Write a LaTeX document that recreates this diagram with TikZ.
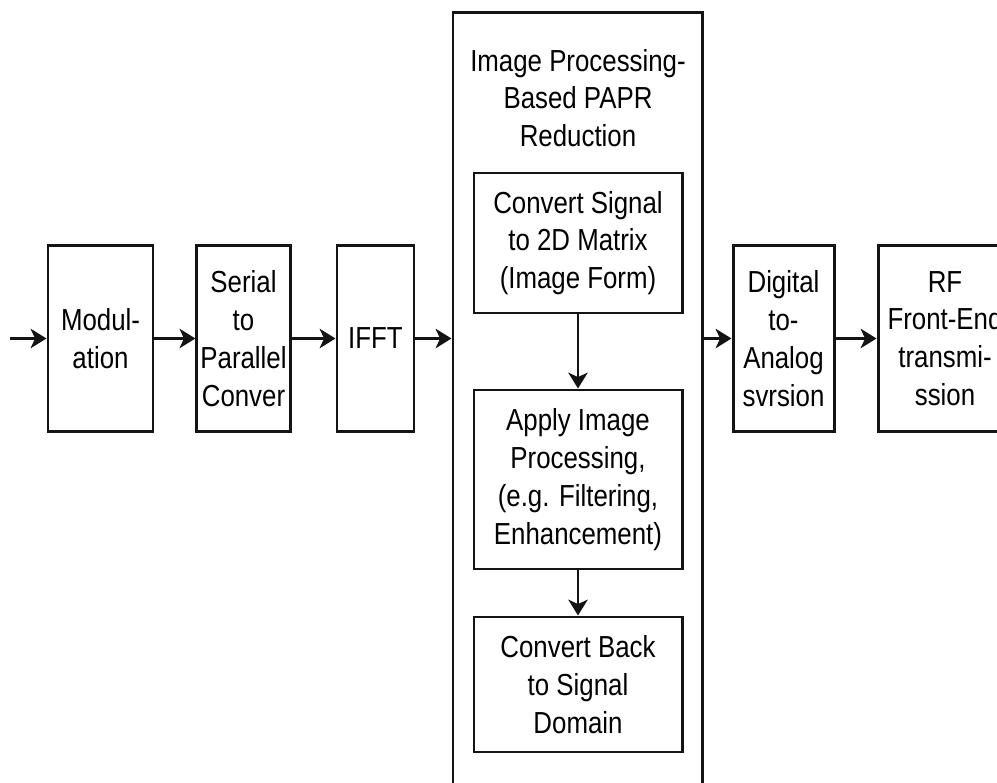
\documentclass[tikz,border=0pt]{standalone}
\usepackage{fontspec}
\setmainfont{Liberation Sans}[FakeStretch=0.85]
\usepackage{xcolor}
\usepackage{tikz}
\usetikzlibrary{arrows.meta,positioning}
\definecolor{figline}{RGB}{20,20,20}
\tikzset{
  blk/.style ={draw=figline, line width=1.7pt, align=center, inner sep=2pt, font=\fontsize{17.3}{21.5}\selectfont},
  lab/.style ={align=center, inner sep=1pt, font=\fontsize{17.3}{21.5}\selectfont},
  ar/.style  ={draw=figline, line width=1.6pt, -{Stealth[length=9pt,width=11pt,inset=2.5pt]}},
}

\begin{document}
\begin{tikzpicture}
  \useasboundingbox (0,0) rectangle (19.94,15.64);
  \fill[white] (0,0) rectangle (19.94,15.64);
  \clip (0,0) rectangle (19.94,15.64);
  % transmitter chain
  \node[blk, minimum width=2.1cm, minimum height=3.72cm] (mod) at (2.01,8.87) {Modul-\\ation};
  \node[blk, minimum width=1.86cm, minimum height=3.72cm] (sp) at (4.87,8.87) {Serial\\to\\Parallel\\Conver};
  \node[blk, minimum width=1.54cm, minimum height=3.72cm] (ifft) at (7.51,8.87) {IFFT};
  \node[blk, minimum width=4.98cm, minimum height=16cm, anchor=north] (papr) at (11.55,15.42) {};
  \node[lab] (ptitle) at (11.56,13.68) {Image Processing-\\Based PAPR\\Reduction};
  \node[blk, minimum width=4.16cm, minimum height=2.8cm] (conv) at (11.56,10.78) {Convert Signal\\to 2D Matrix\\(Image Form)};
  \node[blk, minimum width=4.16cm, minimum height=3.58cm] (app) at (11.56,6.05) {Apply Image\\Processing,\\(e.g. Filtering,\\Enhancement)};
  \node[blk, minimum width=4.16cm, minimum height=2.7cm] (back) at (11.56,1.95) {Convert Back\\to Signal\\Domain};
  \node[blk, minimum width=2.02cm, minimum height=3.72cm] (dac) at (15.67,8.87) {Digital\\to-\\Analog\\svrsion};
  \node[blk, minimum width=2.68cm, minimum height=3.72cm] (rf) at (18.9,8.87) {RF\\Front-End\\transmi-\\ssion};
  \coordinate (src) at (0.2,8.87);
  % connectors
  \draw[ar] (src) -- (src -| mod.west);
  \draw[ar] (mod) -- (sp);
  \draw[ar] (sp) -- (ifft);
  \draw[ar] (ifft.east) -- (ifft.east -| papr.west);
  \draw[ar] (papr.east |- dac.west) -- (dac.west);
  \draw[ar] (dac) -- (rf);
  \draw[ar] (conv) -- (app);
  \draw[ar] (app) -- (back);
\end{tikzpicture}
\end{document}
